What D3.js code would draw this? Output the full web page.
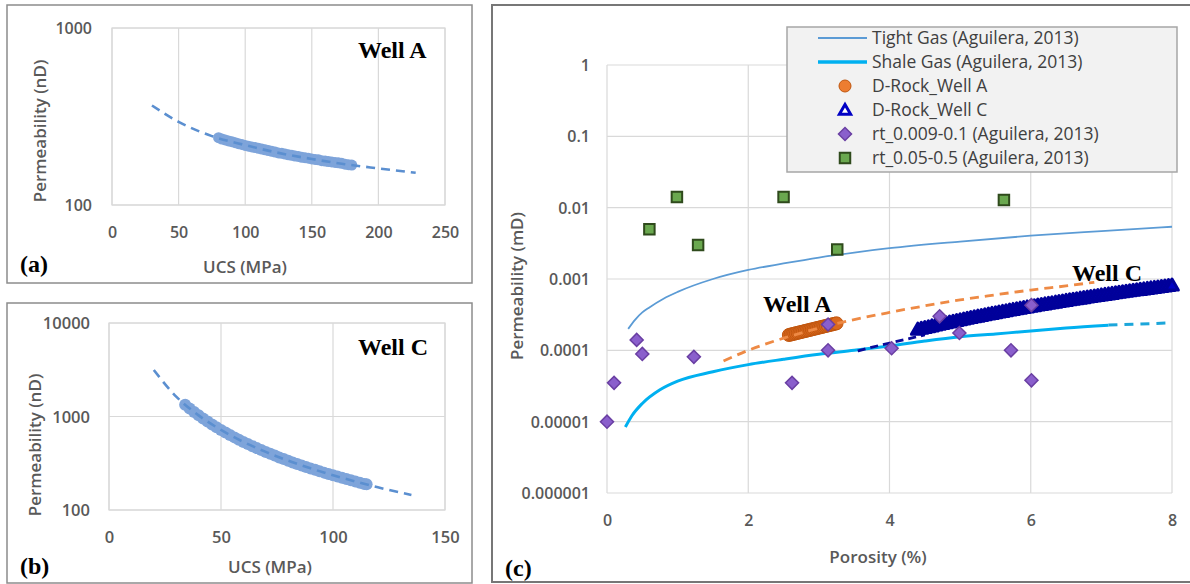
<!DOCTYPE html>
<html>
<head>
<meta charset="utf-8">
<script src="https://cdn.jsdelivr.net/npm/d3@7"></script>
<style>
  body { margin: 0; background: #fff; }
  svg { display: block; }
</style>
</head>
<body>
<div id="chart"></div>
<script>
// ---- panel (a): Well A, UCS (MPa) vs permeability (nD)
const ucsA = [80, 82.5, 85, 87.5, 90, 92.5, 95, 97.5, 100, 102.5, 105, 107.5, 110, 112.5, 115, 117.5, 120, 122.5, 125, 127.5,
  130, 132.5, 135, 137.5, 140, 142.5, 145, 147.5, 150, 152.5, 155, 157.5, 160, 162.5, 165, 167.5, 170, 172.5, 175, 177.5, 180];
const permA = [240, 236, 233, 230, 228, 225, 222, 220, 217, 215, 213, 211, 209, 207, 205, 203, 201, 199, 197, 196,
  194, 192, 191, 189, 188, 186, 185, 184, 182, 181, 180, 178, 177, 176, 175, 174, 173, 172, 170, 169, 168];
const trendUcsA = [30, 50, 75, 100, 125, 150, 175, 200, 228];
const trendPermA = [365, 295, 245, 218, 197, 182, 170, 161, 152];

// ---- panel (b): Well C, UCS (MPa) vs permeability (nD)
const ucsC = [34, 36, 38, 40, 42, 44, 46, 48, 50, 52, 54, 56, 58, 60, 62, 64, 66, 68, 70, 72, 74,
  76, 78, 80, 82, 84, 86, 88, 90, 92, 94, 96, 98, 100, 102, 104, 106, 108, 110, 112, 114, 115];
const permC = [1338, 1219, 1118, 1029, 951, 882, 820, 766, 717, 674, 634, 598, 565, 535, 508, 482, 459, 437, 418, 399, 382,
  365, 351, 337, 323, 311, 299, 289, 278, 269, 260, 251, 243, 235, 228, 221, 214, 208, 202, 196, 190, 188];
const trendUcsC = [20, 30, 40, 50, 60, 70, 80, 90, 100, 110, 120, 135];
const trendPermC = [3140, 1634, 1029, 718, 535, 418, 337, 279, 235, 202, 175, 145];

// ---- panel (c): porosity (%) vs permeability (mD)
const tightPor = [0.3, 0.4, 0.5, 0.6, 0.8, 1, 1.5, 2, 2.5, 3, 3.5, 4, 5, 6, 7, 8];
const tightPerm = [0.0002, 0.00027, 0.00034, 0.0004, 0.00053, 0.00066, 0.001, 0.00134, 0.00165, 0.002, 0.00235, 0.0027, 0.00335, 0.00405, 0.0047, 0.0054];
const shalePor = [0.26, 0.35, 0.5, 0.75, 1, 1.5, 2, 2.5, 3, 3.5, 4, 4.5, 5, 5.5, 6, 6.5, 7.1];
const shalePerm = [0.0000084, 0.000012, 0.000018, 0.000028, 0.000037, 0.00005, 0.000063, 0.000075, 0.000088, 0.0001, 0.000115, 0.000135, 0.000155, 0.00017, 0.000186, 0.000205, 0.000224];
const shaleTrendPor = [7.1, 7.5, 7.95];
const shaleTrendPerm = [0.000226, 0.000233, 0.000242];

const wellAPor = [2.575, 2.6, 2.625, 2.65, 2.675, 2.7, 2.725, 2.75, 2.775, 2.8, 2.825, 2.85, 2.875, 2.9,
  2.925, 2.95, 2.975, 3.0, 3.025, 3.05, 3.075, 3.1, 3.125, 3.15, 3.175, 3.2, 3.225, 3.25];
const wellAPerm = [164.1e-6, 166.4e-6, 168.7e-6, 171.1e-6, 173.5e-6, 175.9e-6, 178.4e-6, 180.9e-6, 183.4e-6, 186.0e-6,
  188.6e-6, 191.3e-6, 193.9e-6, 196.7e-6, 199.4e-6, 202.2e-6, 205.1e-6, 208.0e-6, 210.9e-6, 213.8e-6,
  216.8e-6, 219.9e-6, 223.0e-6, 226.1e-6, 229.3e-6, 232.5e-6, 235.8e-6, 239.1e-6];
const wellATrendPor = [1.65, 2, 2.5, 3, 3.5, 4, 4.5, 5, 5.5, 6, 6.5, 6.9];
const wellATrendPerm = [0.000071, 0.0001, 0.000148, 0.000205, 0.00027, 0.00034, 0.00042, 0.00051, 0.0006, 0.0007, 0.0008, 0.0009];

const wellCPor = [4.4, 4.45, 4.5, 4.55, 4.6, 4.65, 4.7, 4.75, 4.8, 4.85, 4.9, 4.95, 5.0, 5.05, 5.1, 5.15, 5.2, 5.25,
  5.3, 5.35, 5.4, 5.45, 5.5, 5.55, 5.6, 5.65, 5.7, 5.75, 5.8, 5.85, 5.9, 5.95, 6.0, 6.05, 6.1, 6.15,
  6.2, 6.25, 6.3, 6.35, 6.4, 6.45, 6.5, 6.55, 6.6, 6.65, 6.7, 6.75, 6.8, 6.85, 6.9, 6.95, 7.0, 7.05,
  7.1, 7.15, 7.2, 7.25, 7.3, 7.35, 7.4, 7.45, 7.5, 7.55, 7.6, 7.65, 7.7, 7.75, 7.8, 7.85, 7.9, 7.95, 8.0];
const wellCPerm = [189.6e-6, 194.8e-6, 200.0e-6, 205.3e-6, 210.7e-6, 216.2e-6, 221.8e-6, 227.5e-6, 233.2e-6, 239.0e-6,
  244.9e-6, 250.9e-6, 257.0e-6, 263.2e-6, 269.3e-6, 275.7e-6, 282.2e-6, 288.6e-6, 295.2e-6, 301.9e-6,
  308.6e-6, 315.5e-6, 322.4e-6, 329.5e-6, 336.6e-6, 343.8e-6, 351.0e-6, 358.4e-6, 365.8e-6, 373.4e-6,
  381.0e-6, 388.8e-6, 396.6e-6, 404.5e-6, 412.6e-6, 420.6e-6, 428.8e-6, 437.1e-6, 445.4e-6, 453.9e-6,
  462.4e-6, 471.1e-6, 479.8e-6, 488.7e-6, 497.6e-6, 506.6e-6, 515.8e-6, 525.0e-6, 534.2e-6, 543.7e-6,
  553.2e-6, 562.7e-6, 572.4e-6, 582.2e-6, 592.0e-6, 602.1e-6, 612.2e-6, 622.3e-6, 632.6e-6, 642.9e-6,
  653.4e-6, 663.9e-6, 674.6e-6, 685.3e-6, 696.2e-6, 707.1e-6, 718.2e-6, 729.4e-6, 740.6e-6, 751.9e-6,
  763.4e-6, 774.9e-6, 787.0e-6];
const wellCTrendPor = [3.55, 3.9, 4.2, 4.5];
const wellCTrendPerm = [0.000098, 0.00012, 0.00014, 0.000165];

const rt1Por = [0.0, 0.1, 0.42, 0.5, 1.23, 2.62, 3.13, 3.13, 4.03, 4.71, 4.99, 5.72, 6.01, 6.01];
const rt1Perm = [0.00001, 0.000035, 0.00014, 0.000089, 0.000081, 0.000035, 0.0001, 0.00023, 0.000107, 0.0003, 0.000175, 0.0001, 0.000038, 0.00043];
const rt2Por = [0.6, 0.99, 1.29, 2.5, 3.26, 5.62];
const rt2Perm = [0.005, 0.0141, 0.003, 0.0141, 0.0026, 0.0128];

const legendLabels = ["Tight Gas (Aguilera, 2013)", "Shale Gas (Aguilera, 2013)", "D-Rock_Well A", "D-Rock_Well C", "rt_0.009-0.1 (Aguilera, 2013)", "rt_0.05-0.5 (Aguilera, 2013)"];

const sans = '"Open Sans", "Noto Sans", sans-serif';
const serif = '"Liberation Serif", "Times New Roman", serif';
const gridColor = "#d9d9d9";
const tickColor = "#595959";

const zip = (a, b) => a.map((v, i) => [v, b[i]]);

const svg = d3.select("#chart")
  .append("svg")
  .attr("width", 1190)
  .attr("height", 584);

// panel frames
function frame(x0, y0, w, h, stroke, sw) {
  svg.append("rect")
    .attr("x", x0).attr("y", y0).attr("width", w).attr("height", h)
    .attr("fill", "#fff").attr("stroke", stroke).attr("stroke-width", sw);
}
frame(7, 5, 465, 278, "#8c8c8c", 1.5);
frame(7, 303, 465, 280, "#8c8c8c", 1.5);
frame(492, 5, 702, 577, "#777", 2);

function label(x, y, txt, opts) {
  const t = svg.append("text")
    .attr("x", x).attr("y", y)
    .attr("font-family", opts.family || sans)
    .attr("font-size", opts.size)
    .attr("font-weight", opts.weight || "normal")
    .attr("fill", opts.fill || "#000")
    .attr("text-anchor", opts.anchor || "start")
    .text(txt);
  if (opts.rotate) t.attr("transform", `rotate(-90,${x},${y})`);
  if (opts.dy) t.attr("dy", opts.dy);
  return t;
}

// grid + tick labels, used by all three panels
function axes(g, x, y, width, height, xTicks, yTicks, yFmt, yPad, tickSize) {
  g.append("g").selectAll("line")
    .data(xTicks).join("line")
    .attr("x1", d => x(d)).attr("x2", d => x(d))
    .attr("y1", 0).attr("y2", height)
    .attr("stroke", gridColor).attr("stroke-width", 1.2);
  g.append("g").selectAll("line")
    .data(yTicks).join("line")
    .attr("x1", 0).attr("x2", width)
    .attr("y1", d => y(d)).attr("y2", d => y(d))
    .attr("stroke", gridColor).attr("stroke-width", 1.2);

  const xa = g.append("g")
    .attr("transform", `translate(0,${height})`)
    .call(d3.axisBottom(x).tickValues(xTicks).tickSize(0).tickFormat(d3.format("d")));
  xa.select(".domain").remove();
  xa.selectAll("text")
    .attr("y", 27).attr("dy", "0.35em")
    .attr("fill", tickColor).attr("font-family", sans)
    .attr("font-size", tickSize).attr("font-weight", 600);

  const ya = g.append("g")
    .call(d3.axisLeft(y).tickValues(yTicks).tickSize(0).tickFormat(yFmt));
  ya.select(".domain").remove();
  ya.selectAll("text")
    .attr("x", -yPad).attr("dy", "0.35em")
    .attr("fill", tickColor).attr("font-family", sans)
    .attr("font-size", tickSize).attr("font-weight", 600);
}

function smallPanel(cfg) {
  const width = cfg.right - cfg.left, height = cfg.bottom - cfg.top;
  const g = svg.append("g").attr("transform", `translate(${cfg.left},${cfg.top})`);
  const x = d3.scaleLinear().domain(cfg.xDomain).range([0, width]);
  const y = d3.scaleLog().domain(cfg.yDomain).range([height, 0]);

  axes(g, x, y, width, height, cfg.xTicks, cfg.yTicks, d3.format("d"), cfg.yPad, cfg.tickSize);
  g.append("rect").attr("width", width).attr("height", height)
    .attr("fill", "none").attr("stroke", gridColor).attr("stroke-width", 1.2);

  // markers
  g.append("g").selectAll("circle")
    .data(zip(cfg.mx, cfg.my)).join("circle")
    .attr("cx", d => x(d[0])).attr("cy", d => y(d[1]))
    .attr("r", cfg.r)
    .attr("fill", "#7ea4da");

  // dashed trend
  const line = d3.line().x(d => x(d[0])).y(d => y(d[1])).curve(d3.curveMonotoneX);
  g.append("path")
    .datum(zip(cfg.tx, cfg.ty))
    .attr("d", line)
    .attr("fill", "none")
    .attr("stroke", "#5b8fd0")
    .attr("stroke-width", 2.6)
    .attr("stroke-dasharray", "9,6");
}

smallPanel({
  left: 112, right: 445, top: 28, bottom: 205,
  xDomain: [0, 250], yDomain: [100, 1000],
  xTicks: [0, 50, 100, 150, 200, 250], yTicks: [100, 1000],
  yPad: 20, tickSize: 16, r: 5.5,
  mx: ucsA, my: permA, tx: trendUcsA, ty: trendPermA
});
smallPanel({
  left: 109, right: 445, top: 323, bottom: 510,
  xDomain: [0, 150], yDomain: [100, 10000],
  xTicks: [0, 50, 100, 150], yTicks: [100, 1000, 10000],
  yPad: 19, tickSize: 16.5, r: 6,
  mx: ucsC, my: permC, tx: trendUcsC, ty: trendPermC
});

// axis titles / labels, panels (a) and (b)
label(245, 267, "UCS (MPa)", {size: 17, weight: 600, fill: tickColor, anchor: "middle", dy: "0.35em"});
label(40, 131, "Permeability (nD)", {size: 17, weight: 600, fill: tickColor, anchor: "middle", dy: "0.35em", rotate: true});
label(270, 567, "UCS (MPa)", {size: 17, weight: 600, fill: tickColor, anchor: "middle", dy: "0.35em"});
label(35, 445, "Permeability (nD)", {size: 17, weight: 600, fill: tickColor, anchor: "middle", dy: "0.35em", rotate: true});
label(358, 58, "Well A", {family: serif, size: 24, weight: "bold"});
label(358, 355, "Well C", {family: serif, size: 24, weight: "bold"});
label(20, 272, "(a)", {family: serif, size: 24, weight: "bold"});
label(20, 574, "(b)", {family: serif, size: 24, weight: "bold"});

// ---- panel (c)
const cLeft = 607, cRight = 1172, cTop = 65, cBottom = 493;
const cW = cRight - cLeft, cH = cBottom - cTop;
const gc = svg.append("g").attr("transform", `translate(${cLeft},${cTop})`);
const xc = d3.scaleLinear().domain([0, 8]).range([0, cW]);
const yc = d3.scaleLog().domain([1e-6, 1]).range([cH, 0]);

axes(gc, xc, yc, cW, cH, [0, 2, 4, 6, 8], [1e-6, 1e-5, 1e-4, 1e-3, 1e-2, 1e-1, 1],
  d => String(+d.toFixed(6)), 17, 16);

const lineC = d3.line().x(d => xc(d[0])).y(d => yc(d[1])).curve(d3.curveMonotoneX);

function path(px, py, color, w, dash) {
  const p = gc.append("path")
    .datum(zip(px, py))
    .attr("d", lineC)
    .attr("fill", "none")
    .attr("stroke", color)
    .attr("stroke-width", w);
  if (dash) p.attr("stroke-dasharray", dash);
}

path(tightPor, tightPerm, "#5b9bd5", 1.8);
path(shaleTrendPor, shaleTrendPerm, "#1ca6da", 3, "9,7");
path(shalePor, shalePerm, "#00b0f0", 3);

// Well A markers + trend
gc.append("g").selectAll("circle")
  .data(zip(wellAPor, wellAPerm)).join("circle")
  .attr("cx", d => xc(d[0])).attr("cy", d => yc(d[1]))
  .attr("r", 6.5)
  .attr("fill", "#d9681e").attr("stroke", "#c0560f").attr("stroke-width", 1);
path(wellATrendPor, wellATrendPerm, "#ee8a45", 2.8, "9,6");

// Well C trend + markers
path(wellCTrendPor, wellCTrendPerm, "#0a0a9a", 2.8, "8,5");
const tri = d3.symbol().type(d3.symbolTriangle).size(70);
gc.append("g").selectAll("path")
  .data(zip(wellCPor, wellCPerm)).join("path")
  .attr("d", tri)
  .attr("transform", d => `translate(${xc(d[0])},${yc(d[1])})`)
  .attr("fill", "#0000c4").attr("stroke", "#00009a")
  .attr("stroke-width", 3).attr("stroke-linejoin", "round");

// Aguilera points
const diamond = d3.symbol().type(d3.symbolSquare).size(85);
gc.append("g").selectAll("path")
  .data(zip(rt1Por, rt1Perm)).join("path")
  .attr("d", diamond)
  .attr("transform", d => `translate(${xc(d[0])},${yc(d[1])}) rotate(45)`)
  .attr("fill", "#8a5fcc").attr("stroke", "#6a3fa3").attr("stroke-width", 1.5);

const square = d3.symbol().type(d3.symbolSquare).size(110);
gc.append("g").selectAll("path")
  .data(zip(rt2Por, rt2Perm)).join("path")
  .attr("d", square)
  .attr("transform", d => `translate(${xc(d[0])},${yc(d[1])})`)
  .attr("fill", "#6aa84f").attr("stroke", "#2f4a1c").attr("stroke-width", 2);

// labels panel (c)
label(763, 312, "Well A", {family: serif, size: 24, weight: "bold"});
label(1072, 281, "Well C", {family: serif, size: 24, weight: "bold"});
label(505, 576, "(c)", {family: serif, size: 24, weight: "bold"});
label(878, 557, "Porosity (%)", {size: 17, weight: 600, fill: tickColor, anchor: "middle", dy: "0.35em"});
label(517, 286, "Permeability (mD)", {size: 17, weight: 600, fill: tickColor, anchor: "middle", dy: "0.35em", rotate: true});

// legend
const lg = svg.append("g").attr("transform", "translate(787,27)");
lg.append("rect").attr("width", 390).attr("height", 145)
  .attr("fill", "#f2f2f2").attr("stroke", "#a6a6a6").attr("stroke-width", 1.5);
const rowY = i => 11 + i * 24;
lg.append("line").attr("x1", 31).attr("x2", 80).attr("y1", rowY(0)).attr("y2", rowY(0))
  .attr("stroke", "#5b9bd5").attr("stroke-width", 2);
lg.append("line").attr("x1", 31).attr("x2", 80).attr("y1", rowY(1)).attr("y2", rowY(1))
  .attr("stroke", "#00b0f0").attr("stroke-width", 3.5);
lg.append("circle").attr("cx", 58).attr("cy", rowY(2)).attr("r", 6)
  .attr("fill", "#ed7d31").attr("stroke", "#c0560f");
lg.append("path").attr("d", d3.symbol().type(d3.symbolTriangle).size(55))
  .attr("transform", `translate(58,${rowY(3) + 1})`)
  .attr("fill", "#fff").attr("stroke", "#0000c4").attr("stroke-width", 3);
lg.append("path").attr("d", d3.symbol().type(d3.symbolSquare).size(85))
  .attr("transform", `translate(58,${rowY(4)}) rotate(45)`)
  .attr("fill", "#8a5fcc").attr("stroke", "#6a3fa3").attr("stroke-width", 1.5);
lg.append("path").attr("d", d3.symbol().type(d3.symbolSquare).size(110))
  .attr("transform", `translate(58,${rowY(5)})`)
  .attr("fill", "#6aa84f").attr("stroke", "#2f4a1c").attr("stroke-width", 2);
lg.selectAll("text.lab")
  .data(legendLabels).join("text")
  .attr("class", "lab")
  .attr("x", 85).attr("y", (d, i) => rowY(i)).attr("dy", "0.35em")
  .attr("font-family", sans).attr("font-size", 17.5).attr("fill", "#404040")
  .text(d => d);
</script>
</body>
</html>
